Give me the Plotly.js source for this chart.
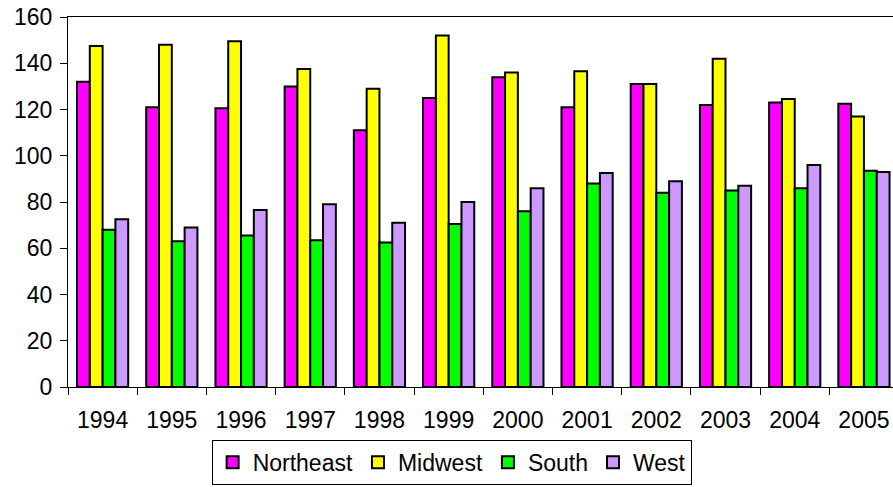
<!DOCTYPE html>
<html>
<head>
<meta charset="utf-8">
<script src="https://cdn.plot.ly/plotly-3.0.1.min.js"></script>
<style>html,body{margin:0;padding:0;background:#fff;overflow:hidden;}</style>
</head>
<body>
<div id="chart" style="width:893px;height:487px;"></div>
<script>
var years = ['1994','1995','1996','1997','1998','1999','2000','2001','2002','2003','2004','2005'];
var northeast = [132, 121, 120.5, 130, 111, 125, 134, 121, 131, 122, 123, 122.5];
var midwest   = [147.5, 148, 149.5, 137.5, 129, 152, 136, 136.5, 131, 142, 124.5, 117];
var south     = [68, 63, 65.5, 63.5, 62.5, 70.5, 76, 88, 84, 85, 86, 93.5];
var west      = [72.5, 69, 76.5, 79, 71, 80, 86, 92.5, 89, 87, 96, 93];

var names = ['Northeast','Midwest','South','West'];
var series = [northeast, midwest, south, west];
var colors = ['#FF00FF','#FFFF00','#00FF00','#CC99FF'];

var traces = series.map(function(vals, i){
  return {
    type: 'bar',
    name: names[i],
    x: years,
    y: vals,
    marker: {color: colors[i], line: {color: '#000000', width: 2}},
    hoverinfo: 'none'
  };
});

var layout = {
  width: 893,
  height: 487,
  margin: {l: 68, r: 0, t: 17, b: 100},
  paper_bgcolor: '#ffffff',
  plot_bgcolor: '#ffffff',
  font: {family: 'Arial, "Liberation Sans", sans-serif', size: 23, color: '#000000'},
  barmode: 'group',
  bargap: 0.26,
  bargroupgap: 0,
  showlegend: true,
  legend: {
    orientation: 'h',
    x: 0.465, xanchor: 'center',
    y: -0.143, yanchor: 'top',
    bordercolor: '#000000', borderwidth: 1,
    font: {size: 23},
    traceorder: 'normal'
  },
  xaxis: {
    type: 'category',
    range: [-0.5, 11.42],
    tickson: 'boundaries',
    ticks: 'outside',
    ticklen: 7,
    tickcolor: '#000000',
    ticklabelstandoff: 12,
    showline: true,
    linecolor: '#000000',
    linewidth: 1,
    mirror: true,
    showgrid: false,
    zeroline: false,
    fixedrange: true
  },
  yaxis: {
    range: [0, 160],
    dtick: 20,
    ticks: 'outside',
    ticklen: 7,
    tickcolor: '#000000',
    ticklabelstandoff: 3,
    showline: true,
    linecolor: '#000000',
    linewidth: 1,
    showgrid: false,
    zeroline: false,
    fixedrange: true
  }
};

Plotly.newPlot('chart', traces, layout, {displayModeBar: false, staticPlot: true});
</script>
</body>
</html>
